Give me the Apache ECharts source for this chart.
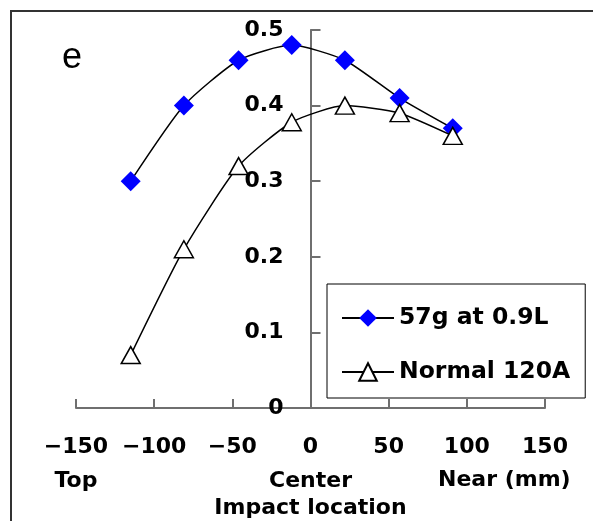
<!DOCTYPE html>
<html>
<head>
<meta charset="utf-8">
<script src="https://cdn.jsdelivr.net/npm/echarts@6/dist/echarts.min.js"></script>
<style>
  html, body { margin: 0; padding: 0; background: #fff; }
  #chart { width: 593px; height: 521px; }
</style>
</head>
<body>
<div id="chart"></div>
<script>
// impact location (mm)
var positions = [-115, -81, -46, -12, 22, 57, 91];
var seriesNames = ['57g at 0.9L', 'Normal 120A'];
var light57 = [0.30, 0.40, 0.46, 0.48, 0.46, 0.41, 0.37];
var normal120 = [0.07, 0.21, 0.32, 0.378, 0.40, 0.39, 0.36];
var xSubLabels = { '-150': 'Top', '0': 'Center' };

var FONT = 'DejaVu Sans';

function pairs(ys) {
  return positions.map(function (x, i) { return [x, ys[i]]; });
}

var chart = echarts.init(document.getElementById('chart'));

chart.setOption({
  animation: false,
  backgroundColor: '#fff',
  textStyle: { fontFamily: FONT },
  grid: {
    left: 76,
    right: 48,
    top: 30,
    bottom: 113,
    containLabel: false,
    outerBoundsMode: 'none'
  },
  legend: {
    orient: 'vertical',
    left: 327,
    top: 284,
    data: seriesNames,
    backgroundColor: '#fff',
    borderColor: '#000',
    borderWidth: 1,
    borderRadius: 0,
    padding: [22, 15, 14, 14],
    itemWidth: 52,
    itemHeight: 22,
    itemGap: 30,
    textStyle: {
      fontFamily: FONT,
      fontWeight: 'bold',
      fontSize: 23.5,
      color: '#000'
    }
  },
  xAxis: {
    type: 'value',
    min: -150,
    max: 150,
    interval: 50,
    name: 'Impact location',
    nameLocation: 'middle',
    nameGap: 89,
    nameMoveOverlap: false,
    nameTextStyle: {
      fontFamily: FONT,
      fontWeight: 'bold',
      fontSize: 22,
      color: '#000'
    },
    axisLine: { lineStyle: { color: '#6f6f6f', width: 2 } },
    axisTick: { inside: true, length: 9, lineStyle: { color: '#6f6f6f', width: 2 } },
    splitLine: { show: false },
    axisLabel: {
      margin: 22,
      fontFamily: FONT,
      fontWeight: 'bold',
      fontSize: 22,
      lineHeight: 34,
      color: '#000',
      formatter: function (v) {
        var s = String(v).replace('-', '\u2212');
        var sub = xSubLabels[String(v)];
        return sub ? s + '\n' + sub : s;
      }
    }
  },
  yAxis: {
    type: 'value',
    min: 0,
    max: 0.5,
    interval: 0.1,
    position: 'left',
    // shift the axis (with its labels) onto x = 0
    offset: -234.5,
    axisLine: { show: true, onZero: false, lineStyle: { color: '#6f6f6f', width: 2 } },
    axisTick: { show: true, inside: true, length: 10, lineStyle: { color: '#6f6f6f', width: 2 } },
    splitLine: { show: false },
    axisLabel: {
      margin: 27,
      fontFamily: FONT,
      fontWeight: 'bold',
      fontSize: 22,
      color: '#000',
      formatter: function (v) {
        return v === 0 ? '0' : v.toFixed(1);
      }
    }
  },
  graphic: [
    {
      type: 'rect',
      silent: true,
      shape: { x: 11, y: 11, width: 700, height: 700 },
      style: { fill: 'none', stroke: '#333', lineWidth: 2 }
    },
    {
      type: 'text',
      left: 62,
      top: 40,
      style: { text: 'e', font: '36px "Liberation Sans"', fill: '#000' }
    },
    {
      type: 'text',
      left: 438,
      top: 469,
      style: { text: 'Near (mm)', font: 'bold 22px "DejaVu Sans"', fill: '#000' }
    }
  ],
  series: [
    {
      name: seriesNames[0],
      type: 'line',
      smooth: 0.2,
      data: pairs(light57),
      symbol: 'diamond',
      symbolSize: [20, 20],
      itemStyle: { color: '#0000ff', borderWidth: 0 },
      lineStyle: { color: '#000', width: 1.5 },
      z: 2
    },
    {
      name: seriesNames[1],
      type: 'line',
      smooth: 0.2,
      data: pairs(normal120),
      symbol: 'triangle',
      symbolSize: [19, 17],
      itemStyle: { color: '#fff', borderColor: '#000', borderWidth: 1.5 },
      lineStyle: { color: '#000', width: 1.5 },
      z: 3
    }
  ]
});
</script>
</body>
</html>
